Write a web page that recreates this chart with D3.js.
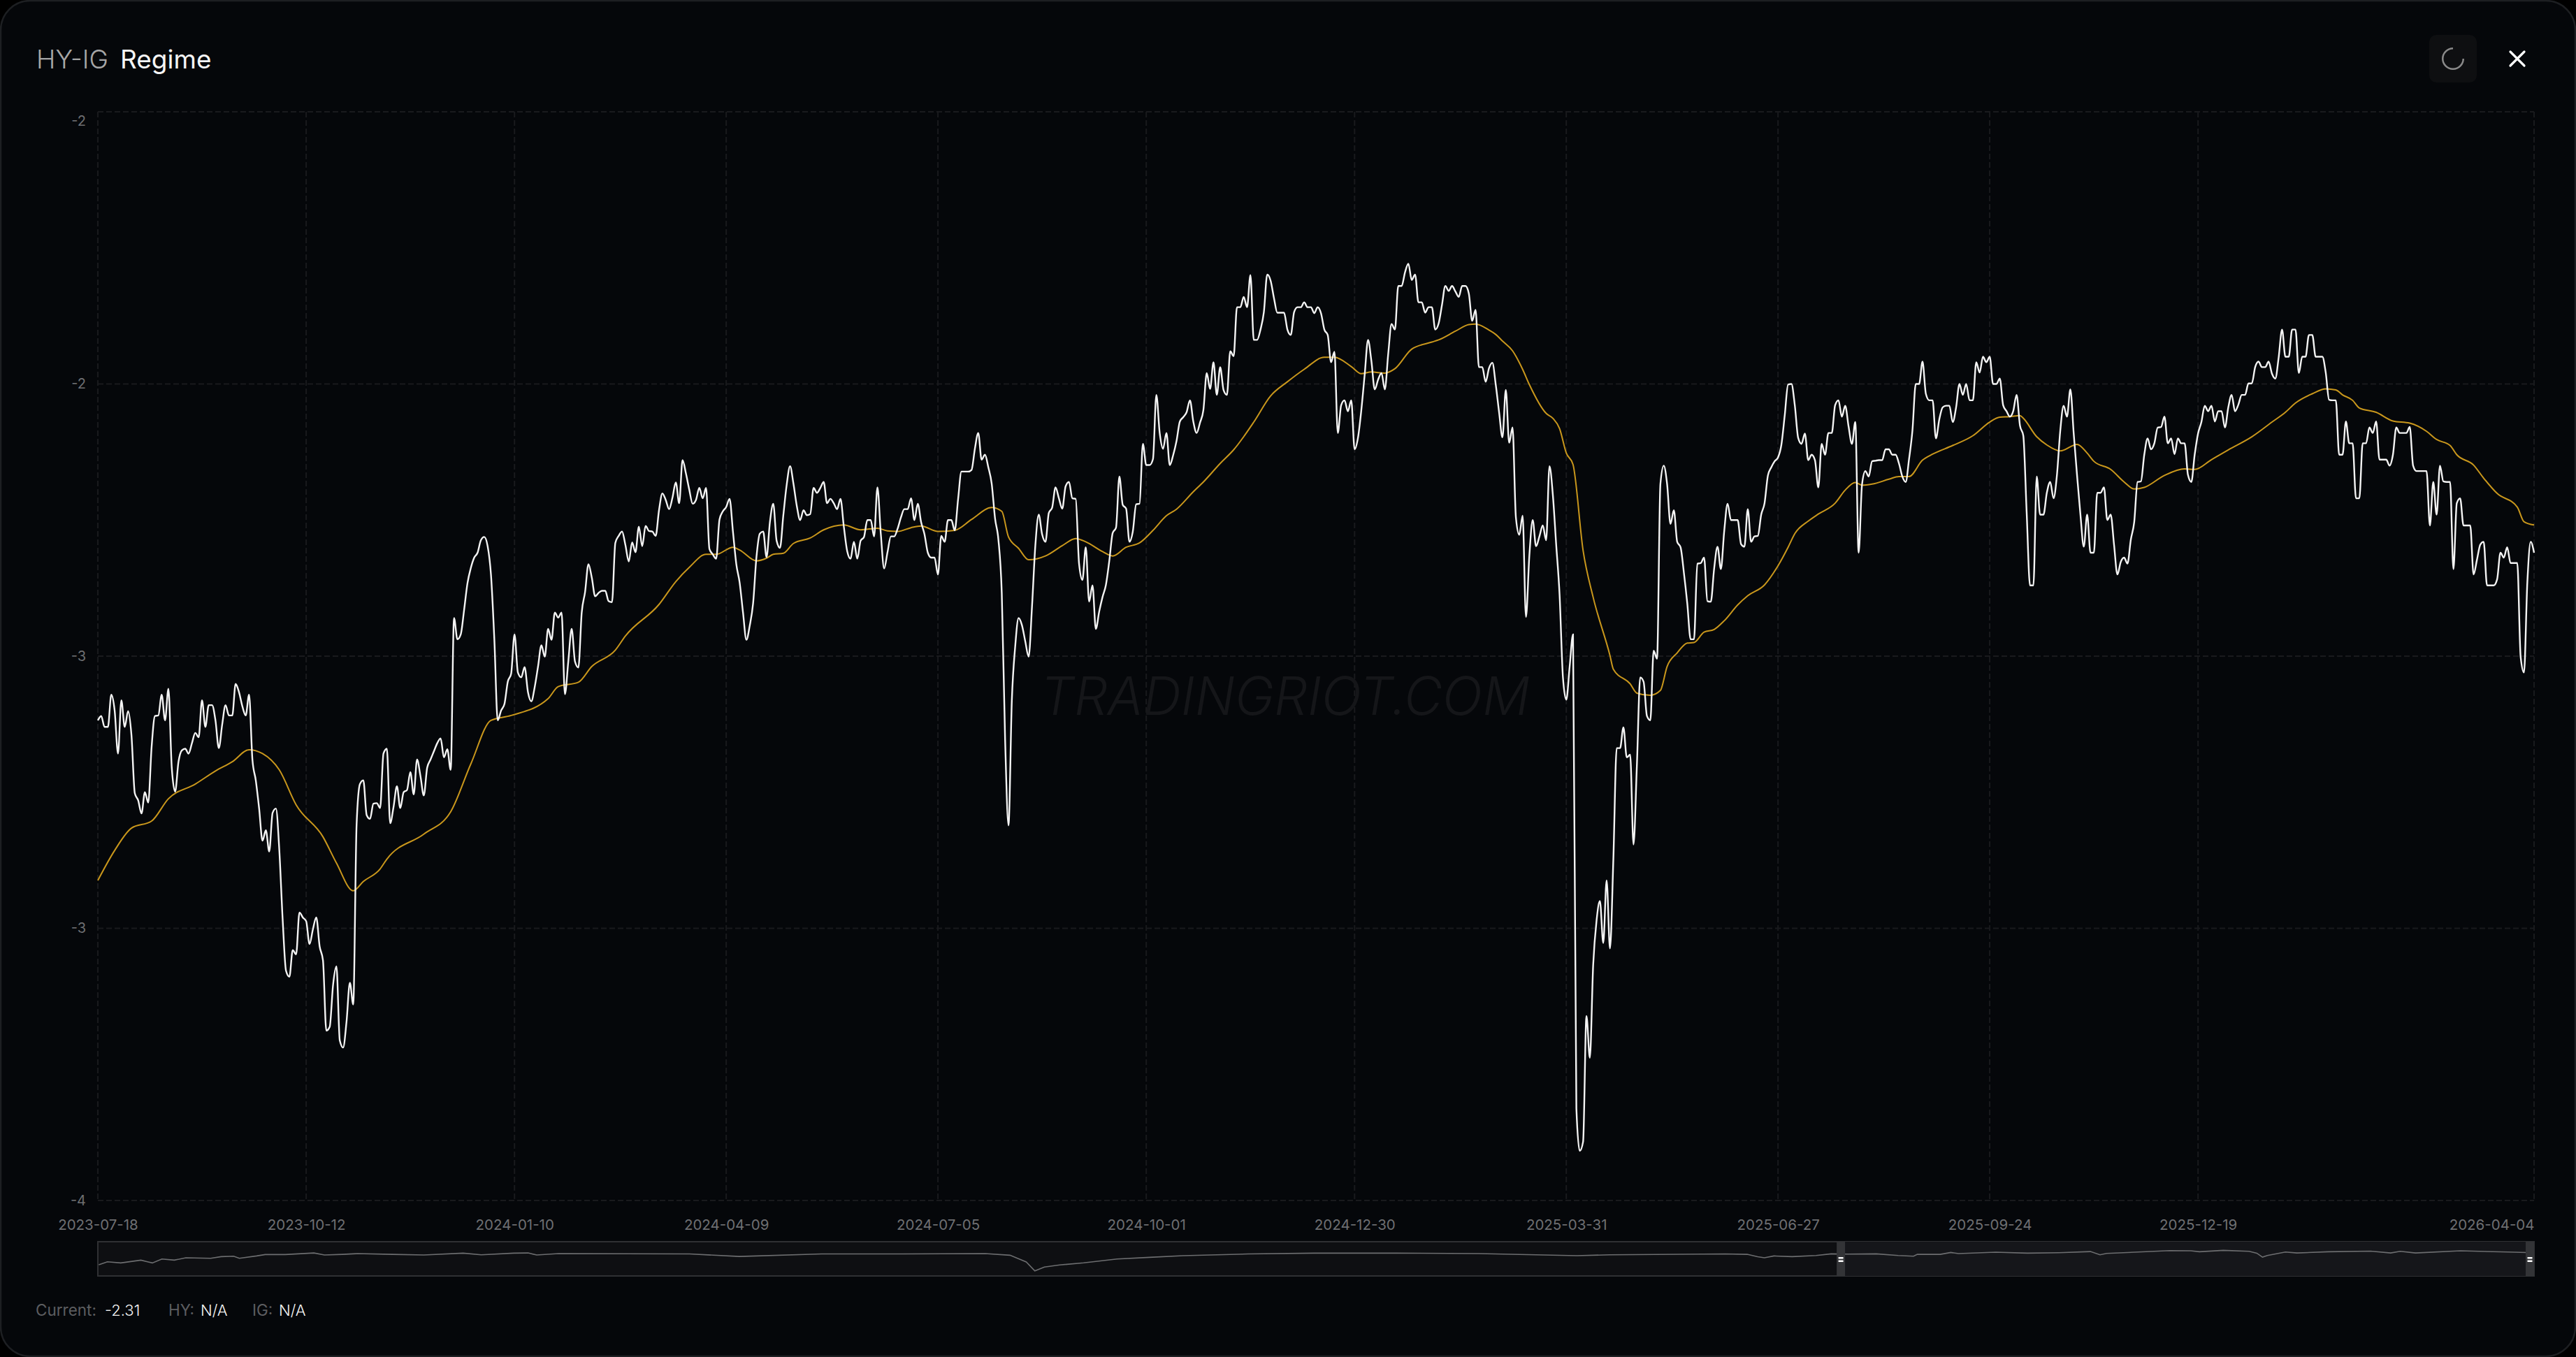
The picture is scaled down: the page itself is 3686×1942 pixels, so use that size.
<!DOCTYPE html>
<html><head><meta charset="utf-8">
<script src="https://cdn.jsdelivr.net/npm/d3@7"></script>
<style>
html,body{margin:0;padding:0;background:#000;overflow:hidden}
svg{display:block;font-family:Inter,sans-serif}
</style></head><body><div id="c"></div>
<script>
// ---------- DATA ----------
const tickIndex = [0,62,124,187,250,312,374,437,500,563,625,725];
const tickLabels = ["2023-07-18","2023-10-12","2024-01-10","2024-04-09","2024-07-05","2024-10-01","2024-12-30","2025-03-31","2025-06-27","2025-09-24","2025-12-19","2026-04-04"];
const yTicks = [-1.5,-2,-2.5,-3,-3.5];
const lastIndex = 725;
const spread = [
-2.618,-2.610,-2.630,-2.630,-2.571,-2.600,-2.679,-2.581,-2.630,-2.601,
-2.645,-2.752,-2.765,-2.789,-2.750,-2.769,-2.667,-2.610,-2.609,-2.571,
-2.618,-2.560,-2.705,-2.749,-2.694,-2.673,-2.670,-2.679,-2.660,-2.641,
-2.649,-2.581,-2.630,-2.590,-2.590,-2.618,-2.669,-2.626,-2.590,-2.609,
-2.609,-2.551,-2.566,-2.592,-2.609,-2.571,-2.690,-2.728,-2.780,-2.839,
-2.820,-2.859,-2.788,-2.780,-2.856,-2.984,-3.078,-3.089,-3.040,-3.048,
-2.971,-2.980,-2.987,-3.029,-3.002,-2.980,-3.033,-3.059,-3.188,-3.181,
-3.104,-3.070,-3.206,-3.219,-3.172,-3.100,-3.140,-2.810,-2.735,-2.728,
-2.792,-2.799,-2.771,-2.770,-2.779,-2.679,-2.670,-2.807,-2.777,-2.739,
-2.779,-2.750,-2.746,-2.713,-2.754,-2.690,-2.720,-2.756,-2.705,-2.690,
-2.675,-2.660,-2.651,-2.686,-2.671,-2.709,-2.430,-2.469,-2.460,-2.415,
-2.366,-2.338,-2.319,-2.310,-2.287,-2.281,-2.298,-2.351,-2.470,-2.618,
-2.600,-2.588,-2.547,-2.532,-2.460,-2.530,-2.539,-2.520,-2.566,-2.583,
-2.557,-2.519,-2.480,-2.501,-2.450,-2.470,-2.420,-2.429,-2.420,-2.570,
-2.510,-2.450,-2.510,-2.521,-2.420,-2.382,-2.331,-2.356,-2.390,-2.384,
-2.380,-2.380,-2.399,-2.401,-2.292,-2.279,-2.271,-2.296,-2.326,-2.291,
-2.309,-2.262,-2.298,-2.261,-2.270,-2.271,-2.279,-2.232,-2.201,-2.213,
-2.230,-2.209,-2.181,-2.219,-2.140,-2.164,-2.194,-2.220,-2.213,-2.191,
-2.210,-2.191,-2.303,-2.313,-2.321,-2.249,-2.234,-2.226,-2.211,-2.271,
-2.331,-2.365,-2.420,-2.470,-2.444,-2.403,-2.318,-2.275,-2.271,-2.318,
-2.254,-2.220,-2.288,-2.301,-2.241,-2.185,-2.151,-2.183,-2.224,-2.250,
-2.232,-2.241,-2.239,-2.191,-2.200,-2.191,-2.180,-2.219,-2.211,-2.219,
-2.230,-2.211,-2.262,-2.307,-2.321,-2.290,-2.321,-2.288,-2.281,-2.250,
-2.250,-2.280,-2.190,-2.275,-2.339,-2.309,-2.280,-2.280,-2.266,-2.245,
-2.230,-2.230,-2.210,-2.250,-2.220,-2.254,-2.276,-2.310,-2.319,-2.319,
-2.350,-2.279,-2.290,-2.250,-2.250,-2.269,-2.212,-2.161,-2.161,-2.161,
-2.158,-2.119,-2.090,-2.139,-2.130,-2.153,-2.183,-2.247,-2.286,-2.384,
-2.654,-2.811,-2.581,-2.482,-2.430,-2.443,-2.473,-2.501,-2.409,-2.296,
-2.240,-2.276,-2.290,-2.237,-2.227,-2.190,-2.210,-2.229,-2.188,-2.180,
-2.210,-2.211,-2.330,-2.360,-2.300,-2.400,-2.370,-2.450,-2.418,-2.391,
-2.369,-2.325,-2.274,-2.264,-2.170,-2.222,-2.229,-2.290,-2.271,-2.221,
-2.220,-2.110,-2.149,-2.149,-2.138,-2.020,-2.090,-2.119,-2.090,-2.149,
-2.131,-2.105,-2.069,-2.061,-2.052,-2.030,-2.069,-2.090,-2.071,-2.048,
-1.980,-2.009,-1.960,-2.020,-1.969,-2.011,-2.020,-1.940,-1.949,-1.859,
-1.859,-1.840,-1.859,-1.800,-1.919,-1.919,-1.900,-1.868,-1.799,-1.810,
-1.842,-1.869,-1.869,-1.869,-1.900,-1.910,-1.868,-1.859,-1.859,-1.850,
-1.859,-1.859,-1.870,-1.859,-1.870,-1.900,-1.910,-1.960,-1.941,-2.090,
-2.039,-2.030,-2.050,-2.030,-2.120,-2.099,-2.048,-1.983,-1.919,-1.958,
-2.010,-1.992,-1.980,-2.010,-1.945,-1.890,-1.900,-1.820,-1.820,-1.795,
-1.779,-1.809,-1.799,-1.850,-1.850,-1.869,-1.859,-1.859,-1.900,-1.889,
-1.855,-1.820,-1.829,-1.820,-1.830,-1.840,-1.820,-1.820,-1.834,-1.884,
-1.864,-1.969,-1.969,-1.996,-1.971,-1.961,-2.001,-2.052,-2.098,-2.011,
-2.108,-2.080,-2.245,-2.277,-2.242,-2.428,-2.316,-2.250,-2.298,-2.280,
-2.260,-2.287,-2.151,-2.204,-2.296,-2.387,-2.539,-2.580,-2.519,-2.460,
-3.331,-3.409,-3.392,-3.161,-3.238,-3.067,-2.986,-2.950,-3.027,-2.912,
-3.037,-2.874,-2.669,-2.669,-2.631,-2.686,-2.681,-2.846,-2.702,-2.539,
-2.547,-2.610,-2.618,-2.490,-2.505,-2.184,-2.150,-2.184,-2.257,-2.232,
-2.290,-2.300,-2.347,-2.403,-2.469,-2.469,-2.330,-2.329,-2.319,-2.399,
-2.400,-2.339,-2.299,-2.340,-2.270,-2.220,-2.250,-2.250,-2.250,-2.294,
-2.299,-2.230,-2.290,-2.280,-2.279,-2.240,-2.219,-2.168,-2.153,-2.142,
-2.135,-2.112,-2.058,-2.001,-2.000,-2.039,-2.099,-2.110,-2.091,-2.140,
-2.130,-2.140,-2.190,-2.110,-2.130,-2.090,-2.090,-2.039,-2.030,-2.060,
-2.040,-2.078,-2.110,-2.070,-2.310,-2.185,-2.160,-2.170,-2.142,-2.141,
-2.140,-2.140,-2.120,-2.120,-2.130,-2.130,-2.146,-2.170,-2.180,-2.138,
-2.086,-2.000,-2.000,-1.959,-2.018,-2.030,-2.030,-2.100,-2.065,-2.043,
-2.040,-2.040,-2.070,-2.043,-2.000,-2.020,-2.000,-2.030,-2.030,-1.960,
-1.979,-1.950,-1.960,-1.950,-2.000,-2.000,-1.990,-2.039,-2.050,-2.060,
-2.050,-2.020,-2.076,-2.095,-2.236,-2.370,-2.370,-2.170,-2.240,-2.240,
-2.200,-2.180,-2.210,-2.168,-2.086,-2.040,-2.060,-2.010,-2.091,-2.168,
-2.240,-2.299,-2.240,-2.310,-2.310,-2.200,-2.200,-2.190,-2.250,-2.240,
-2.295,-2.350,-2.327,-2.319,-2.330,-2.286,-2.254,-2.180,-2.179,-2.130,
-2.100,-2.120,-2.109,-2.080,-2.079,-2.060,-2.109,-2.100,-2.129,-2.100,
-2.109,-2.109,-2.167,-2.180,-2.130,-2.091,-2.070,-2.040,-2.050,-2.040,
-2.069,-2.050,-2.050,-2.080,-2.043,-2.020,-2.050,-2.038,-2.020,-2.020,
-1.999,-1.999,-1.969,-1.959,-1.969,-1.969,-1.959,-1.981,-1.990,-1.951,
-1.900,-1.950,-1.950,-1.900,-1.900,-1.980,-1.950,-1.950,-1.910,-1.910,
-1.950,-1.950,-1.950,-1.979,-2.029,-2.030,-2.030,-2.130,-2.130,-2.069,
-2.109,-2.109,-2.210,-2.210,-2.109,-2.109,-2.080,-2.090,-2.069,-2.139,
-2.139,-2.139,-2.150,-2.130,-2.080,-2.090,-2.090,-2.090,-2.079,-2.150,
-2.160,-2.160,-2.160,-2.160,-2.260,-2.180,-2.240,-2.150,-2.179,-2.180,
-2.180,-2.340,-2.219,-2.210,-2.260,-2.260,-2.260,-2.350,-2.323,-2.295,
-2.290,-2.370,-2.370,-2.370,-2.359,-2.310,-2.319,-2.300,-2.329,-2.329,
-2.329,-2.501,-2.530,-2.364,-2.290,-2.310];

const avgIndex = [0,5,10,16,21,29,35,40,45,49,54,59,67,71,76,79,84,86,97,105,111,117,123,
134,137,143,147,154,157,167,172,176,181,184,189,191,196,199,201,204,207,212,216,222,227,232,235,238,242,245,
250,255,260,266,269,271,274,277,282,287,291,294,299,302,306,310,314,318,321,326,329,334,338,344,
349,354,359,365,368,373,376,379,383,386,391,397,399,404,408,410,414,416,418,421,424,426,431,433,435,437,439,
442,445,450,451,456,458,462,465,467,470,473,475,478,481,484,488,491,496,500,503,505,509,512,517,520,523,525,528,533,536,539,
543,546,552,558,563,566,569,572,573,577,580,584,589,592,594,599,603,606,609,615,621,624,629,634,641,647,651,654,659,663,666,668,671,673,
678,683,688,693,696,700,702,707,710,714,720,722,725];
const avgValue = [-2.912,-2.857,-2.816,-2.803,-2.762,-2.735,-2.711,-2.694,-2.672,-2.679,-2.709,-2.773,-2.832,-2.880,-2.931,-2.914,-2.891,-2.873,-2.827,-2.786,-2.698,-2.618,-2.609,
-2.578,-2.556,-2.548,-2.519,-2.489,-2.463,-2.405,-2.363,-2.337,-2.313,-2.313,-2.300,-2.305,-2.325,-2.320,-2.313,-2.311,-2.293,-2.283,-2.268,-2.259,-2.268,-2.265,-2.270,-2.271,-2.264,-2.261,
-2.271,-2.269,-2.249,-2.227,-2.234,-2.281,-2.302,-2.323,-2.316,-2.297,-2.284,-2.290,-2.308,-2.316,-2.300,-2.292,-2.269,-2.242,-2.230,-2.198,-2.180,-2.146,-2.121,-2.070,
-2.022,-1.996,-1.973,-1.951,-1.951,-1.968,-1.981,-1.978,-1.980,-1.972,-1.936,-1.923,-1.919,-1.903,-1.891,-1.890,-1.901,-1.909,-1.921,-1.939,-1.973,-2.001,-2.054,-2.063,-2.082,-2.127,-2.148,
-2.306,-2.392,-2.499,-2.524,-2.551,-2.568,-2.572,-2.563,-2.519,-2.494,-2.476,-2.475,-2.456,-2.451,-2.435,-2.406,-2.389,-2.369,-2.334,-2.300,-2.275,-2.252,-2.239,-2.219,-2.195,-2.181,-2.186,-2.184,-2.175,-2.170,-2.170,
-2.140,-2.129,-2.113,-2.095,-2.070,-2.061,-2.060,-2.058,-2.063,-2.097,-2.112,-2.123,-2.111,-2.127,-2.142,-2.157,-2.180,-2.193,-2.190,-2.168,-2.156,-2.157,-2.139,-2.121,-2.097,-2.070,-2.052,-2.035,-2.018,-2.009,-2.011,-2.020,-2.030,-2.044,
-2.052,-2.068,-2.072,-2.087,-2.102,-2.113,-2.130,-2.149,-2.173,-2.201,-2.226,-2.253,-2.259];

// overview strip: whole history, selected window is its tail
const overviewLast = 2548, windowStart = 1823;
const overviewIndex = [1,10,24,45,52,57,67,80,92,118,129,142,148,166,175,196,226,237,256,271,308,341,382,401,435,450,459,482,
619,671,757,842,928,954,971,980,990,1006,1031,1066,1100,1135,1203,1272,1358,1444,1547,1581,1702,
1725,1736,1743,1753,1772,1797,1813,1830,1860,1883,1899,1903,1927,1938,1946,1985,2018,2051,2084,2094,2101,2134,2167,2189,2198,2223,2250,2258,2264,2269,2288,2300,2333,2377,2398,2408,2424,2471,2521,2540,2546];
const overviewValue = [-5.26,-4.55,-4.82,-4.16,-4.55,-4.82,-3.89,-4.16,-3.61,-3.72,-3.34,-3.23,-3.72,-3.17,-2.84,-2.84,-2.46,-2.95,-2.79,-2.62,-2.79,-2.95,-2.51,-2.90,-2.51,-2.46,-2.95,-2.62,
-2.7,-3.3,-2.7,-2.7,-2.6,-3.0,-4.6,-6.7,-5.8,-5.3,-4.8,-3.9,-3.5,-3.1,-2.7,-2.5,-2.5,-2.6,-3.1,-2.9,-2.7,
-2.79,-3.34,-3.61,-3.17,-3.34,-3.06,-2.68,-2.73,-2.68,-3.06,-3.23,-2.79,-2.79,-2.35,-2.62,-2.29,-2.51,-2.40,-2.13,-2.90,-2.57,-2.24,-1.91,-1.96,-2.18,-1.85,-2.07,-2.51,-3.45,-3.06,-2.24,-2.46,-2.18,-2.02,-2.46,-2.07,-2.46,-1.96,-2.24,-2.35,-2.46];

const titleParts = ["HY-IG","Regime"];
const stats = [["Current:","-2.31"],["HY:","N/A"],["IG:","N/A"]];

// ---------- LAYOUT ----------
const W=3686,H=1942, L=140,R=3626,T=160,B=1718, OT=1777,OB=1826;
const svg=d3.select("#c").append("svg").attr("width",W).attr("height",H);
svg.append("rect").attr("x",1).attr("y",1).attr("width",W-2).attr("height",H-2).attr("rx",42)
  .attr("fill","#05070a").attr("stroke","#1d1f22").attr("stroke-width",2.5);

const x=d3.scaleLinear().domain([0,lastIndex]).range([L,R]);
const y=d3.scaleLinear().domain([-3.5,-1.5]).range([B,T]);

// grid + axes
const grid="#191a1d";
const yAxis=d3.axisLeft(y).tickValues(yTicks).tickFormat(v=>v.toFixed(0)).tickSize(0).tickPadding(17);
const gy=svg.append("g").attr("transform",`translate(${L},0)`).call(yAxis);
gy.select(".domain").remove();
gy.selectAll("text").attr("fill","#6e6f72").style("font-size","20px").style("font-family","Inter,sans-serif")
  .attr("dy",(d)=>d===-1.5?"0.95em":"0.32em");
const xAxis=d3.axisBottom(x).tickValues(tickIndex).tickFormat((d,i)=>tickLabels[i]).tickSize(0).tickPadding(0);
const gx=svg.append("g").attr("transform",`translate(0,${B})`).call(xAxis);
gx.select(".domain").remove();
gx.selectAll("text").attr("fill","#6e6f72").style("font-size","20.5px").style("font-family","Inter,sans-serif")
  .attr("y",35).attr("dy","0.32em").attr("text-anchor",(d)=>d===lastIndex?"end":"middle");

svg.append("g").selectAll("line").data(yTicks).join("line")
  .attr("x1",L).attr("x2",R).attr("y1",d=>y(d)).attr("y2",d=>y(d))
  .attr("stroke",grid).attr("stroke-width",2).attr("stroke-dasharray","8 4");
svg.append("g").selectAll("line").data(tickIndex).join("line")
  .attr("x1",d=>x(d)).attr("x2",d=>x(d)).attr("y1",T).attr("y2",B)
  .attr("stroke",grid).attr("stroke-width",2).attr("stroke-dasharray","8 4");

// watermark
svg.append("text").attr("x",(1492+2186)/2).attr("y",1023).attr("text-anchor","middle")
  .style("font-family","Inter,sans-serif").style("font-size","75.5px").style("font-style","italic").style("font-weight",300)
  .attr("fill","#151619").text("TRADINGRIOT.COM");

// series
const lineMain=d3.line().x((d,i)=>x(i)).y(d=>y(d)).curve(d3.curveMonotoneX);
const lineAvg=d3.line().x(d=>x(d[0])).y(d=>y(d[1])).curve(d3.curveMonotoneX);
svg.append("path").attr("d",lineAvg(d3.zip(avgIndex,avgValue))).attr("fill","none").attr("stroke","#c9971c").attr("stroke-width",2);
svg.append("path").attr("d",lineMain(spread)).attr("fill","none").attr("stroke","#f4f4f4").attr("stroke-width",2.4);

// overview
const ox=d3.scaleLinear().domain([0,overviewLast]).range([L,R]);
const oy=d3.scaleLinear().domain([-7.9,0.2]).range([OB,OT]);
svg.append("rect").attr("x",L).attr("y",OT).attr("width",R-L).attr("height",OB-OT).attr("fill","#0e0f12").attr("stroke","#2f3033").attr("stroke-width",2);
svg.append("rect").attr("x",ox(windowStart)).attr("y",OT).attr("width",R-ox(windowStart)).attr("height",OB-OT).attr("fill","#15161a");
svg.append("path").attr("d",d3.line().x(d=>ox(d[0])).y(d=>oy(d[1]))(d3.zip(overviewIndex,overviewValue)))
  .attr("fill","none").attr("stroke","#6d6e70").attr("stroke-width",1.6);
[ox(windowStart)-6,R-12].forEach(hx=>{
  svg.append("rect").attr("x",hx).attr("y",OT).attr("width",12).attr("height",OB-OT).attr("fill","#333437");
  svg.append("rect").attr("x",hx+2.5).attr("y",1799).attr("width",7).attr("height",2.5).attr("fill","#fff");
  svg.append("rect").attr("x",hx+2.5).attr("y",1803.5).attr("width",7).attr("height",2.5).attr("fill","#fff");
});

// title
svg.append("text").attr("x",52).attr("y",98).style("font-size","37px").style("font-weight",300).attr("fill","#a6a6a6").text(titleParts[0]);
svg.append("text").attr("x",172).attr("y",98).style("font-size","37px").style("font-weight",400).attr("fill","#f5f5f5").text(titleParts[1]);

// buttons
svg.append("rect").attr("x",3476).attr("y",50).attr("width",68).attr("height",68).attr("rx",10).attr("fill","#0e0f11");
svg.append("path").attr("transform","translate(3510,84)")
  .attr("d",d3.arc().innerRadius(13.5).outerRadius(16).startAngle(Math.PI*0.5).endAngle(Math.PI*2)())
  .attr("fill","#8a8a8a");
svg.append("path").attr("d","M3592 74L3612 94M3612 74L3592 94").attr("stroke","#fff").attr("stroke-width",3.2).attr("stroke-linecap","round");

// footer
const statX=[[51,150],[241,287],[361,399]];
stats.forEach((s,i)=>{
  svg.append("text").attr("x",statX[i][0]).attr("y",1883).style("font-size","22.5px").attr("fill","#5c5d60").text(s[0]);
  svg.append("text").attr("x",statX[i][1]).attr("y",1883).style("font-size","22px").style("font-weight",300).attr("fill","#f4f4f4").text(s[1]);
});
</script></body></html>
